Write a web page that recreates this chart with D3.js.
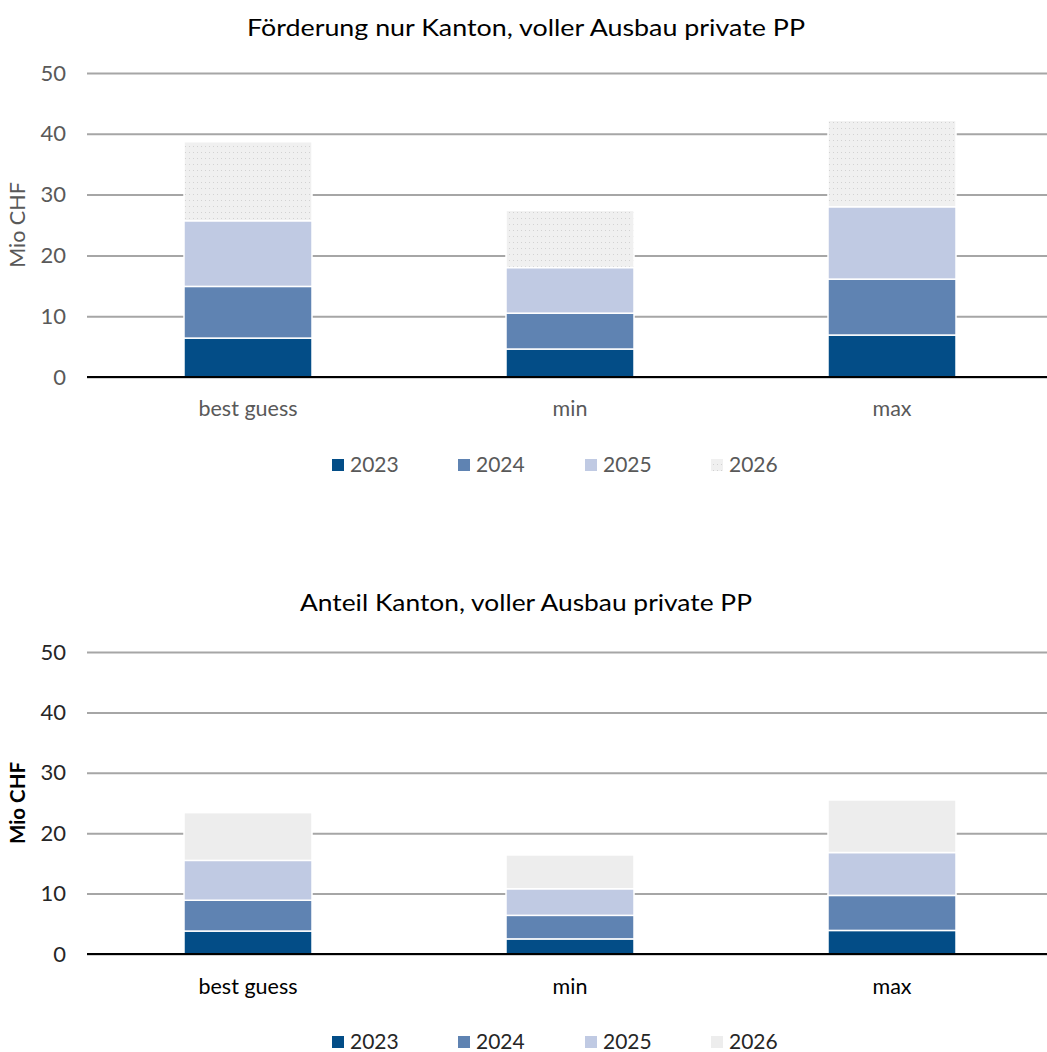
<!DOCTYPE html>
<html>
<head>
<meta charset="utf-8">
<script src="https://cdn.jsdelivr.net/npm/d3@7"></script>
<style>
  html, body { margin: 0; padding: 0; background: #fff; }
  svg { display: block; }
</style>
</head>
<body>
<svg id="chart" width="1047" height="1052"></svg>
<script>
// ---- Data ----
const categories = ["best guess", "min", "max"];
const years = ["2023", "2024", "2025", "2026"];
const yTicks = [0, 10, 20, 30, 40, 50];

// Chart 1: Förderung nur Kanton, voller Ausbau private PP (Mio CHF, per year segment)
const top2023 = [6.4, 4.6, 6.9];
const top2024 = [8.5, 5.9, 9.2];
const top2025 = [10.8, 7.5, 11.9];
const top2026 = [13.0, 9.4, 14.2];

// Chart 2: Anteil Kanton, voller Ausbau private PP
const bot2023 = [3.8, 2.5, 3.9];
const bot2024 = [5.1, 3.9, 5.8];
const bot2025 = [6.6, 4.4, 7.1];
const bot2026 = [7.9, 5.6, 8.7];

const titleTop = "Förderung nur Kanton, voller Ausbau private PP";
const titleBot = "Anteil Kanton, voller Ausbau private PP";
const yLabel = "Mio CHF";

// ---- Drawing ----
const svg = d3.select("#chart");
const FONT = "Lato, 'Open Sans', 'DejaVu Sans', sans-serif";
const colors = ["#034d87", "#5f83b2", "#c0cae3", "#ededed"];

const defs = svg.append("defs");
const pat = defs.append("pattern")
  .attr("id", "dots").attr("patternUnits", "userSpaceOnUse")
  .attr("width", 4).attr("height", 6);
pat.append("rect").attr("width", 4).attr("height", 6).attr("fill", "#f0f0f0");
pat.append("rect").attr("x", 1).attr("y", 2).attr("width", 1).attr("height", 1).attr("fill", "#d2d2d2");

function buildRows(s23, s24, s25, s26) {
  return categories.map((c, i) => ({ cat: c, "2023": s23[i], "2024": s24[i], "2025": s25[i], "2026": s26[i] }));
}

function drawChart(opt) {
  const g = svg.append("g");
  const x = d3.scaleBand().domain(categories).range([87, 1053]).paddingInner(0).paddingOuter(0);
  const y = d3.scaleLinear().domain([0, 50]).range([opt.y0, opt.y50]);
  const barW = 128;

  // title
  g.append("text")
    .attr("x", 526).attr("y", opt.titleY)
    .attr("text-anchor", "middle")
    .attr("font-family", FONT).attr("font-size", 23)
    .attr("fill", opt.titleColor)
    .attr("textLength", opt.titleLen).attr("lengthAdjust", "spacingAndGlyphs")
    .text(opt.title);

  // gridlines via axis
  const axis = d3.axisLeft(y).tickValues(yTicks).tickSize(-(1047 - 87)).tickPadding(21)
    .tickFormat(d3.format("d"));
  const ax = g.append("g").attr("transform", "translate(87,0)").call(axis);
  ax.select(".domain").remove();
  ax.selectAll(".tick line").attr("stroke", "#a6a6a6").attr("stroke-width", 2);
  ax.selectAll(".tick text")
    .attr("font-family", FONT).attr("font-size", 22)
    .attr("fill", opt.textColor);

  // stacked bars
  const rows = buildRows(...opt.series);
  const stack = d3.stack().keys(years)(rows);
  stack.forEach((layer, li) => {
    g.append("g").selectAll("rect").data(layer).join("rect")
      .attr("x", d => x(d.data.cat) + x.bandwidth() / 2 - barW / 2)
      .attr("width", barW)
      .attr("y", d => y(d[1]))
      .attr("height", d => y(d[0]) - y(d[1]))
      .attr("fill", li === 3 && opt.pattern ? "url(#dots)" : colors[li])
      .attr("stroke", "#fff").attr("stroke-width", 1.5);
  });

  // baseline
  g.append("line").attr("x1", 87).attr("x2", 1047)
    .attr("y1", y(0)).attr("y2", y(0))
    .attr("stroke", "#000").attr("stroke-width", 2);

  // category labels
  const xa = d3.axisBottom(x).tickSize(0).tickPadding(0);
  const xg = g.append("g").attr("transform", `translate(0,${opt.catY})`).call(xa);
  xg.select(".domain").remove();
  xg.selectAll(".tick text")
    .attr("font-family", FONT).attr("font-size", 21.5)
    .attr("fill", opt.catColor).attr("dy", 0);

  // y label
  g.append("text")
    .attr("transform", `translate(${opt.yLabX},${(opt.y0 + opt.y50) / 2}) rotate(-90)`)
    .attr("text-anchor", "middle")
    .attr("font-family", FONT).attr("font-size", opt.yLabBold ? 20.5 : 21.5)
    .attr("font-weight", opt.yLabBold ? "bold" : "normal")
    .attr("fill", opt.yLabColor)
    .text(yLabel);

  // legend
  const legX = [332, 458, 585, 711];
  const lg = g.append("g");
  years.forEach((yr, i) => {
    lg.append("rect")
      .attr("x", legX[i]).attr("y", opt.legY - 6).attr("width", 12).attr("height", 12)
      .attr("fill", i === 3 && opt.pattern ? "url(#dots)" : colors[i]);
    lg.append("text")
      .attr("x", legX[i] + 18).attr("y", opt.legY + 7)
      .attr("font-family", FONT).attr("font-size", 21)
      .attr("fill", opt.legColor)
      .text(yr);
  });
}

drawChart({
  title: titleTop, titleY: 36, titleLen: 558, titleColor: "#000",
  y0: 377, y50: 73,
  series: [top2023, top2024, top2025, top2026],
  pattern: true,
  textColor: "#595959", catColor: "#595959", legColor: "#595959",
  catY: 416, legY: 465,
  yLabX: 25, yLabBold: false, yLabColor: "#595959"
});

drawChart({
  title: titleBot, titleY: 611, titleLen: 452, titleColor: "#000",
  y0: 954, y50: 652,
  series: [bot2023, bot2024, bot2025, bot2026],
  pattern: false,
  textColor: "#262626", catColor: "#000", legColor: "#262626",
  catY: 994, legY: 1042,
  yLabX: 25, yLabBold: true, yLabColor: "#000"
});
</script>
</body>
</html>
